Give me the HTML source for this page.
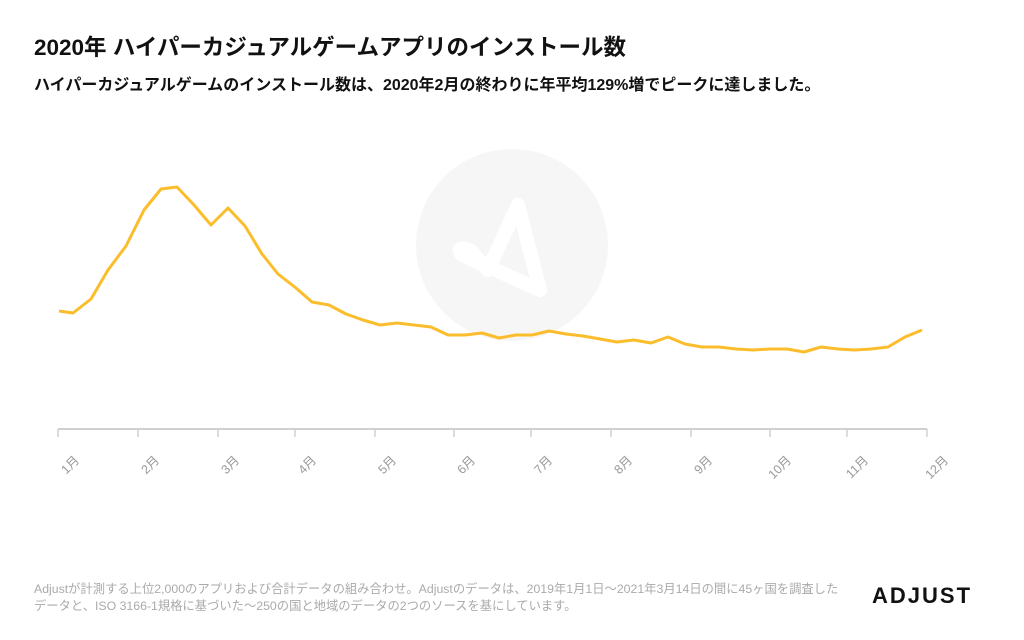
<!DOCTYPE html>
<html><head><meta charset="utf-8"><style>
body{margin:0;width:1024px;height:640px;background:#fff;font-family:"Liberation Sans","Noto Sans CJK JP",sans-serif;overflow:hidden;position:relative}
.t{position:absolute;left:34px;top:30px;font-size:22.5px;font-weight:bold;color:#111}
.s{position:absolute;left:34px;top:71px;font-size:16px;font-weight:bold;color:#111;white-space:nowrap}
.f{position:absolute;left:34px;top:581px;font-size:12.3px;color:#aaa;line-height:17px;white-space:nowrap}
.logo{position:absolute;left:872px;top:583px;font-size:22px;font-weight:bold;letter-spacing:2px;color:#111}
</style></head><body>
<div class="t">2020年 ハイパーカジュアルゲームアプリのインストール数</div>
<div class="s">ハイパーカジュアルゲームのインストール数は、2020年2月の終わりに年平均129%増でピークに達しました。</div>
<svg width="1024" height="640" style="position:absolute;left:0;top:0">
<circle cx="512" cy="245" r="96" fill="#f6f6f6"/>
<path d="M488 270 L518 205 L540 290 L462 255 Q455 245 470 250 Z" fill="none" stroke="#fff" stroke-width="14" stroke-linejoin="round"/>
<line x1="58" y1="429" x2="927" y2="429" stroke="#d0d0d0" stroke-width="2"/>
<g stroke="#d0d0d0" stroke-width="1.5">
<line x1="58" y1="429" x2="58" y2="437"/><line x1="138" y1="429" x2="138" y2="437"/><line x1="218" y1="429" x2="218" y2="437"/><line x1="295" y1="429" x2="295" y2="437"/><line x1="375" y1="429" x2="375" y2="437"/><line x1="454" y1="429" x2="454" y2="437"/><line x1="531" y1="429" x2="531" y2="437"/><line x1="611" y1="429" x2="611" y2="437"/><line x1="691" y1="429" x2="691" y2="437"/><line x1="770" y1="429" x2="770" y2="437"/><line x1="847" y1="429" x2="847" y2="437"/><line x1="927" y1="429" x2="927" y2="437"/>
</g>
<g font-size="12.5" fill="#999" text-anchor="end" font-family="Liberation Sans,Noto Sans CJK JP,sans-serif">
<text transform="translate(80,461) rotate(-45)">1月</text>
<text transform="translate(160,461) rotate(-45)">2月</text>
<text transform="translate(240,461) rotate(-45)">3月</text>
<text transform="translate(317,461) rotate(-45)">4月</text>
<text transform="translate(397,461) rotate(-45)">5月</text>
<text transform="translate(476,461) rotate(-45)">6月</text>
<text transform="translate(553,461) rotate(-45)">7月</text>
<text transform="translate(633,461) rotate(-45)">8月</text>
<text transform="translate(713,461) rotate(-45)">9月</text>
<text transform="translate(792,461) rotate(-45)">10月</text>
<text transform="translate(869,461) rotate(-45)">11月</text>
<text transform="translate(949,461) rotate(-45)">12月</text>
</g>
<polyline fill="none" stroke="#fbbd2b" stroke-width="3" stroke-linejoin="round" points="59,311 73,313 91,299 108,270 126,246 144,210 161,189 177,187 194,205 211,225 228,208 245,226 262,254 278,274 296,288 312,302 329,305 346,314 363,320 380,325 397,323 414,325 431,327 448,335 465,335 482,333 499,338 516,335 532,335 549,331 566,334 583,336 600,339 617,342 634,340 651,343 668,337 685,344 702,347 719,347 736,349 753,350 770,349 787,349 804,352 821,347 838,349 854,350 871,349 888,347 905,337 922,330"/>
</svg>
<div class="f">Adjustが計測する上位2,000のアプリおよび合計データの組み合わせ。Adjustのデータは、2019年1月1日～2021年3月14日の間に45ヶ国を調査した<br>データと、ISO 3166-1規格に基づいた～250の国と地域のデータの2つのソースを基にしています。</div>
<div class="logo">ADJUST</div>
</body></html>
